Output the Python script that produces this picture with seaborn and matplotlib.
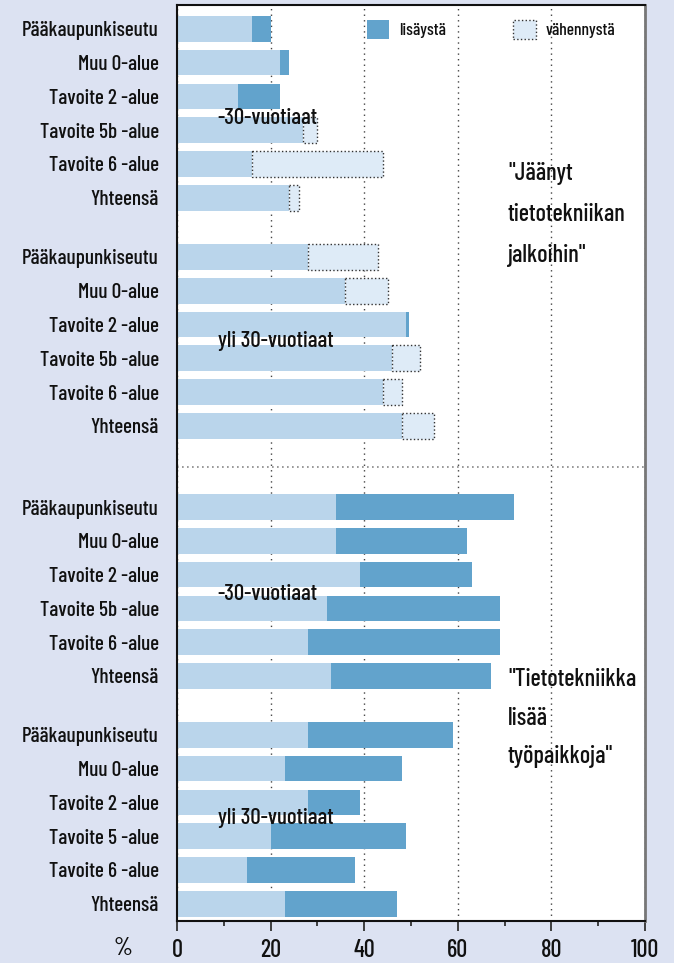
import numpy as np
import pandas as pd
import matplotlib
matplotlib.use("Agg")
import matplotlib.pyplot as plt
from matplotlib.patches import Patch
from matplotlib.ticker import MultipleLocator
from matplotlib import font_manager as fm
import seaborn as sns

# ---------------- data ----------------
labels_a = ["Pääkaupunkiseutu", "Muu 0-alue", "Tavoite 2 -alue",
            "Tavoite 5b -alue", "Tavoite 6 -alue", "Yhteensä"]
labels_b = ["Pääkaupunkiseutu", "Muu 0-alue", "Tavoite 2 -alue",
            "Tavoite 5 -alue", "Tavoite 6 -alue", "Yhteensä"]

# "Jäänyt tietotekniikan jalkoihin", -30-vuotiaat
g1_base = [16, 22, 13, 27, 16, 24]
g1_lisays = [4, 2, 9, 0, 0, 0]
g1_vahennys = [0, 0, 0, 3, 28, 2]
# "Jäänyt tietotekniikan jalkoihin", yli 30-vuotiaat
g2_base = [28, 36, 49, 46, 44, 48]
g2_lisays = [0, 0, 0.5, 0, 0, 0]
g2_vahennys = [15, 9, 0, 6, 4, 7]
# "Tietotekniikka lisää työpaikkoja", -30-vuotiaat
g3_base = [34, 34, 39, 32, 28, 33]
g3_lisays = [38, 28, 24, 37, 41, 34]
g3_vahennys = [0, 0, 0, 0, 0, 0]
# "Tietotekniikka lisää työpaikkoja", yli 30-vuotiaat
g4_base = [28, 23, 28, 20, 15, 23]
g4_lisays = [31, 25, 11, 29, 23, 24]
g4_vahennys = [0, 0, 0, 0, 0, 0]

group_labels = ["-30-vuotiaat", "yli 30-vuotiaat", "-30-vuotiaat", "yli 30-vuotiaat"]
quote_top = ['"Jäänyt', "tietotekniikan", 'jalkoihin"']
quote_bottom = ['"Tietotekniikka', "lisää", 'työpaikkoja"']
legend_labels = ["lisäystä", "vähennystä"]
x_ticks = [0, 20, 40, 60, 80, 100]

# ---------------- layout ----------------
group_start = [0.0, 6.75, 14.15, 20.89]

rows = []
for gi, (lab, b, l, v) in enumerate([
        (labels_a, g1_base, g1_lisays, g1_vahennys),
        (labels_a, g2_base, g2_lisays, g2_vahennys),
        (labels_a, g3_base, g3_lisays, g3_vahennys),
        (labels_b, g4_base, g4_lisays, g4_vahennys)]):
    for i in range(6):
        rows.append(dict(pos=round(group_start[gi] + i, 3), label=lab[i],
                         base=b[i], lisays=l[i], vahennys=v[i]))
df = pd.DataFrame(rows).sort_values("pos").reset_index(drop=True)

# ---------------- style ----------------
sns.set_theme(style="white")
names = {f.name for f in fm.fontManager.ttflist}
family = "DejaVu Sans"
for cand in ["Barlow Condensed", "Roboto Condensed", "Archivo Narrow",
             "Liberation Sans Narrow"]:
    if cand in names:
        family = cand
        break
plt.rcParams["font.family"] = [family, "DejaVu Sans"]
plt.rcParams["font.weight"] = "medium"

BG = "#dce2f2"
LIGHT = "#bad5eb"
DARK = "#62a3cc"
PALE = "#deebf7"
EDGE = "#333333"
INK = "#111111"

fig = plt.figure(figsize=(6.74, 9.63), dpi=100, facecolor=BG)
ax = fig.add_axes([177 / 674, 1 - 921 / 963, 468 / 674, (921 - 5.3) / 963])
ax.set_facecolor("white")

W = 0.76
sns.barplot(data=df, x="base", y="pos", orient="y", native_scale=True,
            color=LIGHT, saturation=1, width=W, errorbar=None,
            linewidth=0, edgecolor="none", ax=ax, zorder=2)

dl = df[df["lisays"] > 0]
sns.barplot(data=dl, x="lisays", y="pos", orient="y", native_scale=True,
            color=DARK, saturation=1, width=W, errorbar=None,
            linewidth=0, edgecolor="none", ax=ax, zorder=3,
            left=dl["base"].to_numpy())

dv = df[df["vahennys"] > 0]
sns.barplot(data=dv, x="vahennys", y="pos", orient="y", native_scale=True,
            color=PALE, saturation=1, width=W, errorbar=None,
            linewidth=1.0, edgecolor=EDGE, linestyle=":", ax=ax, zorder=3,
            left=dv["base"].to_numpy())

ax.set_xlim(0, 100)
ax.set_ylim(26.40, -0.695)
ax.set_xlabel("")
ax.set_ylabel("")

ax.set_yticks(df["pos"].to_numpy())
ax.set_yticklabels(df["label"].tolist(), fontsize=15.3, color=INK)
ax.tick_params(axis="y", length=0, pad=13)

ax.set_xticks(x_ticks)
ax.set_xticklabels([str(t) for t in x_ticks], fontsize=17.5, color=INK)
ax.xaxis.set_minor_locator(MultipleLocator(10))
ax.tick_params(axis="x", which="major", bottom=True, direction="out",
               length=7.5, width=1.2, color="#222222", pad=5.5)
ax.tick_params(axis="x", which="minor", bottom=True, direction="out",
               length=3.8, width=1.2, color="#222222")

ax.set_axisbelow(True)
ax.xaxis.grid(True, which="major", linestyle=(0, (1, 3)), color="#444444",
              linewidth=1.0, zorder=0)
ax.yaxis.grid(False)

for s in ["left", "top", "bottom"]:
    ax.spines[s].set_color(INK)
    ax.spines[s].set_linewidth(1.5)
ax.spines["right"].set_color("#777777")
ax.spines["right"].set_linewidth(2)

# separator between the two halves
ax.axhline(12.96, color="#888888", linestyle=(0, (1, 2)), linewidth=1.2, zorder=1)

# group labels
for gy, txt in zip([2.64, 9.23, 16.72, 23.35], group_labels):
    ax.text(8.7, gy, txt, fontsize=16.5, ha="left", va="center", color=INK, zorder=5)

# quotes
for yy, txt in zip([4.47, 5.70, 6.89], quote_top):
    ax.text(70.7, yy, txt, fontsize=17.5, ha="left", va="baseline", color=INK, zorder=5)
for yy, txt in zip([19.46, 20.60, 21.73], quote_bottom):
    ax.text(70.7, yy, txt, fontsize=17.5, ha="left", va="baseline", color=INK, zorder=5)

# legend
handles = [Patch(facecolor=DARK, edgecolor="none", label=legend_labels[0]),
           Patch(facecolor=PALE, edgecolor=EDGE, linestyle=":", linewidth=1.0,
                 label=legend_labels[1])]
ax.legend(handles=handles, ncol=2, loc="upper left",
          bbox_to_anchor=(0.405, 0.984), frameon=False, fontsize=12.5,
          handlelength=1.3, handleheight=1.3, columnspacing=3.9,
          handletextpad=0.55, borderpad=0, borderaxespad=0,
          labelcolor=INK)

fig.text(123 / 674, 1 - 948 / 963, "%", fontsize=17.5, ha="center", va="center",
         color=INK)

fig.savefig("out.png", dpi=100, facecolor=BG)
